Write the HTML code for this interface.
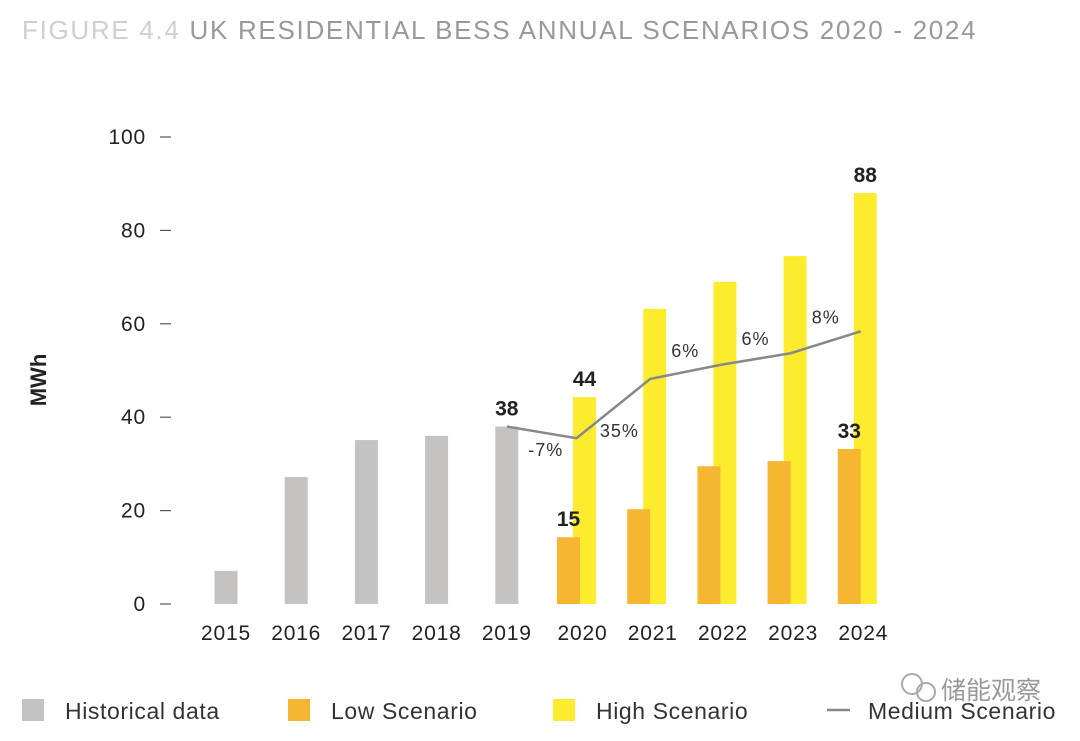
<!DOCTYPE html>
<html><head><meta charset="utf-8"><style>
body{margin:0;background:#fff;width:1080px;height:736px;overflow:hidden;font-family:"Liberation Sans","Noto Sans CJK SC",sans-serif}
</style></head><body>
<svg width="1080" height="736" xmlns="http://www.w3.org/2000/svg" id="chart">
<text x="22" y="39" font-size="26" letter-spacing="1.7" fill="#999"><tspan fill="#cfcfcf">FIGURE 4.4</tspan> UK RESIDENTIAL BESS ANNUAL SCENARIOS 2020 - 2024</text>
<text transform="translate(46,380) rotate(-90)" text-anchor="middle" font-size="22" font-weight="bold" fill="#222">MWh</text>
<g id="yaxis"></g><g id="bars"></g><g id="line"></g><g id="labels"></g>
<g font-size="23" letter-spacing="0.6" fill="#333">
<rect x="22" y="699" width="22" height="22" fill="#c4c3c1"/>
<text x="65" y="719">Historical data</text>
<rect x="288" y="699" width="22" height="22" fill="#f5b731"/>
<text x="331" y="719">Low Scenario</text>
<rect x="553" y="699" width="22" height="22" fill="#fdec2e"/>
<text x="596" y="719">High Scenario</text>
<line x1="827" y1="710" x2="850" y2="710" stroke="#888" stroke-width="2.5"/>
<text x="868" y="719">Medium Scenario</text>
</g>
<g fill="#aaa">
<circle cx="912" cy="684" r="10" fill="none" stroke="#aaa" stroke-width="2"/>
<circle cx="926" cy="692" r="9" fill="none" stroke="#aaa" stroke-width="2"/>
<text x="941" y="699" font-size="25" fill="#999">储能观察</text>
</g>
</svg>
<script>
const years=["2015","2016","2017","2018","2019","2020","2021","2022","2023","2024"];
const historical=[7.1,27.2,35.1,36,38,null,null,null,null,null];
const lowScenario=[null,null,null,null,null,14.3,20.3,29.5,30.6,33.2];
const highScenario=[null,null,null,null,null,44.3,63.2,69,74.5,88];
const medium=[null,null,null,null,38,35.5,48.2,51.2,53.7,58.4];
const growthLabels=[null,null,null,null,null,"-7%","35%","6%","6%","8%"];
const valueLabels=[{i:4,s:"hist",t:"38"},{i:5,s:"high",t:"44"},{i:5,s:"low",t:"15"},{i:9,s:"low",t:"33"},{i:9,s:"high",t:"88"}];
const yTicks=[0,20,40,60,80,100];
const NS="http://www.w3.org/2000/svg";
const y=v=>604-v*4.67;
const xc=i=>i<5?226+i*70.2:576.5+(i-5)*70.2;
function mk(tag,attrs,parent,txt){const e=document.createElementNS(NS,tag);for(const k in attrs)e.setAttribute(k,attrs[k]);if(txt!=null)e.textContent=txt;document.getElementById(parent).appendChild(e);return e;}
yTicks.forEach(t=>{
 let e=mk("text",{x:146,y:y(t)+7,"text-anchor":"end","font-size":21,"letter-spacing":0.8,fill:"#222"},"yaxis",t);
 
 
 let l=mk("line",{x1:160,x2:171,y1:y(t),y2:y(t),stroke:"#555","stroke-width":1.2},"yaxis");
 
 
});
years.forEach((yr,i)=>{
 let e=mk("text",{x:xc(i)+(i<5?0:6),y:640,"text-anchor":"middle","font-size":21,"letter-spacing":0.8,fill:"#222"},"yaxis",yr);
 
 
 if(historical[i]!=null){let r=mk("rect",{x:xc(i)-11.5,y:y(historical[i]),width:23,height:604-y(historical[i]),fill:"#c4c3c1"},"bars");
  
  }
 if(highScenario[i]!=null){let r=mk("rect",{x:xc(i)-3.5,y:y(highScenario[i]),width:23,height:604-y(highScenario[i]),fill:"#fdec2e"},"bars");
  
  }
 if(lowScenario[i]!=null){let r=mk("rect",{x:xc(i)-19.5,y:y(lowScenario[i]),width:23,height:604-y(lowScenario[i]),fill:"#f5b731"},"bars");
  
  }
});
const mx=i=>i===4?507:xc(i)+(i===5?0:3.5);
let pts=[];medium.forEach((v,i)=>{if(v!=null)pts.push(mx(i)+","+y(v));});
let pl=mk("polyline",{points:pts.join(" "),fill:"none",stroke:"#888","stroke-width":2.5},"line");


growthLabels.forEach((g,i)=>{if(!g)return;
 const px=(mx(i-1)+mx(i))/2+(i===5?4:(i===6?6:0));
 const py=i===5?y(medium[i])+18:(i===6?y(medium[i-1])-1:Math.min(y(medium[i-1]),y(medium[i]))-8);
 let e=mk("text",{x:px,y:py,"text-anchor":"middle","font-size":18,"letter-spacing":1,fill:"#333"},"labels",g);
 
 
});
valueLabels.forEach(v=>{
 const val=v.s==="hist"?historical[v.i]:v.s==="low"?lowScenario[v.i]:highScenario[v.i];
 const cx=v.s==="hist"?xc(v.i):v.s==="low"?xc(v.i)-8:xc(v.i)+8;
 let e=mk("text",{x:cx,y:y(val)-11,"text-anchor":"middle","font-size":21,"font-weight":"bold",fill:"#222"},"labels",v.t);
 
 
});
</script>
</body></html>
